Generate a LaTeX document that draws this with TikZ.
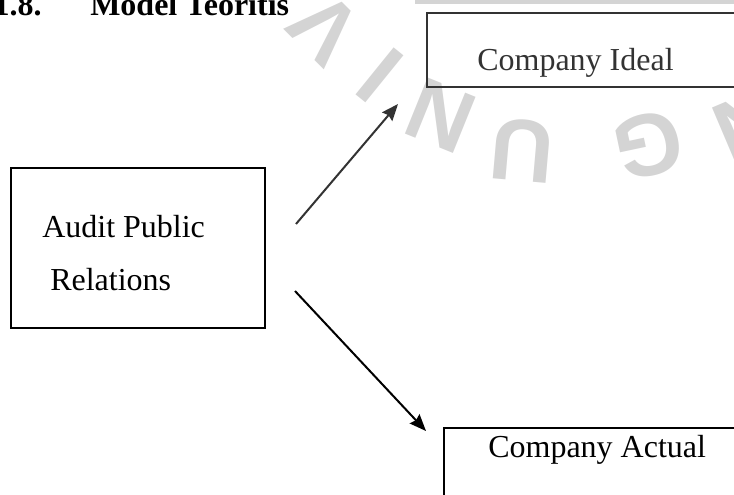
\documentclass[tikz,border=0pt]{standalone}
\usepackage{fontspec}
\setmainfont{Liberation Serif}
\newfontfamily\wmfont{Liberation Sans}
\usetikzlibrary{positioning}
\usetikzlibrary{arrows.meta}
\definecolor{inkgray}{HTML}{333333}
\definecolor{wmgray}{HTML}{D4D4D4}
\tikzset{
    x=0.75pt, y=-0.75pt,
    every node/.append style={
        font=\fontsize{24}{28}\selectfont,
        inner sep=0pt
    },
    box/.style={
        draw,
        line width=1.2pt,
        anchor=north west
    },
    txt/.style={
        anchor=base west
    },
    wm/.style={
        text=wmgray,
        font=\wmfont\bfseries\fontsize{66}{66}\selectfont
    },
    every edge/.append style={
        draw,
        ->,>={Stealth[length=12.5pt,width=10pt,inset=1.5pt]},
        line width=1.5pt
    }
}

\begin{document}
\begin{tikzpicture}
    \path[use as bounding box] (0,0) rectangle (734,495);
    \clip (0,0) rectangle (734,495);

    % watermark
    \fill[wmgray] (415,0) rectangle (734,4);
    \node[wm, rotate=135] (wmV) at (325,28) {V};
    \node[wm, rotate=141] (wmI) at (380,75) {I};
    \node[wm, rotate=158] (wmN) at (441,116) {N};
    \node[wm, rotate=175] (wmU) at (522,150) {U};
    \node[wm, rotate=192] (wmG) at (648,145) {G};
    \node[wm, rotate=203] (wmA) at (748,126) {N};

    \node[anchor=base east, font=\bfseries\fontsize{24}{28}\selectfont] (secnum) at (42,16) {1.8.};
    \node[anchor=base west, font=\bfseries\fontsize{24}{28}\selectfont] (sectitle) at (90,16) {Model Teoritis};

    \node[box, minimum width=190.5pt, minimum height=120pt] (audit) at (10,167) {};
    \node[box, draw=inkgray, minimum width=273pt, minimum height=55.5pt] (ideal) at (426,12) {};
    \node[box, minimum width=260pt, minimum height=70pt] (actual) at (443,427) {};

    \node[txt] (audit1) at ([shift={(32,70)}]audit.north west) {Audit Public};
    \node[txt] (audit2) at ([shift={(40,123)}]audit.north west) {Relations};
    \node[txt, text=inkgray] (idealtxt) at ([shift={(51,59)}]ideal.north west) {Company Ideal};
    \node[txt] (actualtxt) at ([shift={(45,30)}]actual.north west) {Company Actual};

    \coordinate (uptail) at (296,224);
    \coordinate (uptip) at (398,104);
    \coordinate (downtail) at (295,291);
    \coordinate (downtip) at (426,431);

    \draw[inkgray] (uptail) edge (uptip);
    \draw (downtail) edge (downtip);
\end{tikzpicture}
\end{document}
